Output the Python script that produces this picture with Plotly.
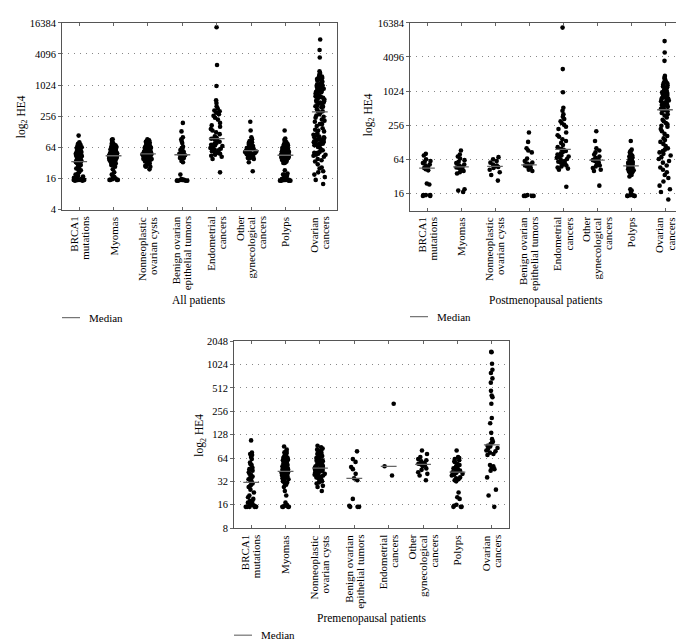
import numpy as np
import plotly.graph_objects as go

categories = ["BRCA1<br>mutations", "Myomas", "Nonneoplastic<br>ovarian cysts",
              "Benign ovarian<br>epithelial tumors", "Endometrial<br>cancers",
              "Other<br>gynecological<br>cancers", "Polyps", "Ovarian<br>cancers"]

# HE4 values, postmenopausal patients
post_brca1 = [80, 75, 64, 60, 58, 55, 52, 50, 47, 45, 43, 41, 24, 23, 15, 15, 15, 14.5, 14.5]
post_myomas = [92, 78, 72, 66, 62, 58, 55, 52, 50, 48, 46, 45, 43, 42, 40, 38, 36, 19, 18, 17]
post_nonneo = [70, 64, 60, 56, 52, 50, 48, 47, 45, 42, 38, 34, 27]
post_benign = [190, 130, 100, 92, 85, 66, 60, 56, 54, 52, 50, 48, 45, 42, 40, 15, 14.5, 14.5, 14.5, 14.5]
post_endometrial = [13500, 2500, 980, 520, 460, 400, 360, 330, 300, 280, 260, 240, 220, 190, 170,
                    160, 145, 135, 125, 115, 105, 98, 94, 90, 86, 82, 78, 75, 72, 70, 68, 65, 62,
                    60, 58, 56, 54, 52, 50, 48, 46, 44, 42, 21]
post_othergyn = [200, 135, 100, 92, 85, 78, 72, 68, 64, 62, 60, 56, 52, 50, 48, 45, 42, 40, 22]
post_polyps = [135, 95, 90, 85, 80, 78, 75, 72, 70, 68, 66, 64, 62, 60, 58, 57, 56, 55, 54, 53,
               52, 51, 50, 49, 48, 47, 46, 45, 44, 43, 42, 41, 40, 39, 38, 36, 34, 32,
               19, 18, 17, 15, 15, 14.5, 14.5, 14.5, 14.5]
post_ovarian = [7800, 4900, 3500, 1900, 1750, 1680, 1600, 1500, 1460, 1400, 1340, 1300, 1240, 1200,
                1150, 1100, 1060, 1000, 980, 950, 920, 900, 870, 850, 820, 800, 780, 760, 740,
                720, 700, 680, 660, 640, 620, 600, 580, 560, 540, 520, 500, 490,
                470, 450, 420, 400, 380, 350, 320, 300, 280, 265, 250, 240, 220, 200, 180, 165,
                150, 140, 130, 120, 110, 100, 95, 90, 85, 80, 75, 70, 65, 60, 56, 50, 46, 42,
                38, 34, 30, 26, 22, 19, 17, 12.5]

# HE4 values, premenopausal patients
pre_brca1 = [108, 75, 72, 70, 66, 62, 56, 53, 52, 48, 46, 44, 42, 40, 39, 37, 36, 35, 34, 33,
             32, 30, 29, 28, 27, 25, 23, 21, 20, 19, 18, 17.5, 17, 16.5, 16, 16, 15.5, 15, 15,
             15, 15, 15]
pre_myomas = [90, 82, 78, 76, 74, 72, 70, 68, 66, 65, 64, 62, 61, 60, 58, 57, 56, 55, 54, 53,
              52, 51, 50, 49, 48, 47, 46, 46, 45, 45, 44, 44, 43, 43, 42, 42, 41, 41, 40, 40,
              39, 39, 38, 38, 37, 37, 36, 36, 35, 35, 34, 33, 32, 31, 30, 29, 27, 24, 21, 17,
              16, 15.5, 15, 15, 15, 15]
pre_nonneo = [92, 88, 85, 82, 80, 78, 76, 74, 72, 70, 68, 66, 64, 63, 62, 60, 59, 58, 56, 55,
              54, 53, 52, 51, 50, 49, 48, 48, 47, 47, 46, 46, 45, 45, 44, 44, 43, 42, 42, 41,
              40, 40, 39, 38, 38, 37, 36, 35, 34, 33, 32, 31, 30, 28, 27, 24]
pre_benign = [78, 62, 57, 49, 46, 40, 35, 33, 19, 15.5, 15, 15, 15]
pre_endometrial = [320, 50, 38]
pre_othergyn = [80, 72, 66, 62, 60, 58, 55, 54, 53, 52, 50, 47, 45, 42, 40, 38, 33]
pre_polyps = [80, 66, 64, 62, 60, 58, 57, 54, 52, 50, 48, 47, 46, 45, 44, 43, 42, 42, 41, 40,
              39, 38, 36, 35, 34, 33, 32, 23, 20, 19, 16, 15.5, 15, 15, 15]
pre_ovarian = [1500, 1480, 1050, 880, 800, 680, 600, 470, 410, 390, 320, 210, 180, 135, 112, 104,
               100, 97, 92, 90, 86, 84, 80, 78, 75, 72, 70, 52, 50, 48, 46, 44, 36, 25, 21, 15]

post = [post_brca1, post_myomas, post_nonneo, post_benign, post_endometrial,
        post_othergyn, post_polyps, post_ovarian]
pre = [pre_brca1, pre_myomas, pre_nonneo, pre_benign, pre_endometrial,
       pre_othergyn, pre_polyps, pre_ovarian]
allp = [a + b for a, b in zip(post, pre)]

yticks_all = [4, 16, 64, 256, 1024, 4096, 16384]
yticks_post = [16, 64, 256, 1024, 4096, 16384]
yticks_pre = [8, 16, 32, 64, 128, 256, 512, 1024, 2048]

W, H = 684, 643
def px(x):
    return x / W
def py(y):
    return 1 - y / H

FONT = "Liberation Serif"
LINE_GAP = 11  # px between lines of a rotated category label
fig = go.Figure()

panels = [
    dict(data=allp, ax="", x0=54, x1=329, y0=10, y1=200, lo=2, hi=14, ticks=yticks_all,
         title="All patients", tx=191, ty=293, ytx=14, yty=106, ly=310),
    dict(data=post, ax="2", x0=402, x1=674, y0=10, y1=201, lo=3, hi=14, ticks=yticks_post,
         title="Postmenopausal patients", tx=538, ty=293, ytx=361, yty=104, ly=309),
    dict(data=pre, ax="3", x0=226, x1=501, y0=334, y1=524, lo=3, hi=11, ticks=yticks_pre,
         title="Premenopausal patients", tx=363, ty=616, ytx=192, yty=430, ly=633),
]

shapes = []
annotations = []
for p in panels:
    xa, ya = "x" + p["ax"], "y" + p["ax"]
    mx, my = [], []
    for i, vals in enumerate(p["data"]):
        fig.add_trace(go.Box(
            y=vals, x0=i, xaxis=xa, yaxis=ya, boxpoints="all", jitter=0.75, pointpos=0,
            width=0.5, line=dict(width=0, color="rgba(0,0,0,0)"),
            fillcolor="rgba(0,0,0,0)", marker=dict(color="black", size=4.6),
            showlegend=False, hoverinfo="y"))
        m = float(np.median(vals))
        mx += [i - 0.23, i + 0.23, None]
        my += [m, m, None]
    fig.add_trace(go.Scatter(x=mx, y=my, mode="lines", xaxis=xa, yaxis=ya,
                             line=dict(color="#666", width=1.3), showlegend=False,
                             hoverinfo="skip"))
    xkey = "xaxis" + p["ax"]
    ykey = "yaxis" + p["ax"]
    fig.update_layout(**{
        xkey: dict(domain=[px(p["x0"]), px(p["x1"])], anchor=ya, range=[-0.5, 7.5],
                   tickvals=list(range(8)), showticklabels=False,
                   ticks="inside", ticklen=3, tickcolor="#666", showline=True,
                   linecolor="#555", linewidth=1, mirror="ticks", showgrid=False,
                   zeroline=False),
        ykey: dict(domain=[py(p["y1"]), py(p["y0"])], anchor=xa, type="log",
                   range=[p["lo"] * np.log10(2), p["hi"] * np.log10(2)],
                   tickvals=p["ticks"], ticktext=[str(t) for t in p["ticks"]],
                   ticks="outside", ticklen=3, tickcolor="#666", showline=True,
                   linecolor="#555", linewidth=1, mirror=True, showgrid=True,
                   gridcolor="#888", griddash="1px,5px", gridwidth=1, zeroline=False,
                   tickfont=dict(family=FONT, size=10.5, color="black")),
    })
    # rotated category labels, each line as its own text, centred on the tick
    for i, cat in enumerate(categories):
        lines = cat.split("<br>")
        n = len(lines)
        for k, ln in enumerate(lines):
            annotations.append(dict(
                text=ln, x=i, xref=xa, y=py(p["y1"] + 5), yref="paper",
                xshift=(k - (n - 1) / 2) * LINE_GAP, showarrow=False, textangle=-90,
                xanchor="center", yanchor="top",
                font=dict(family=FONT, size=11, color="black")))
    annotations.append(dict(text=p["title"], x=px(p["tx"]), y=py(p["ty"]), xref="paper",
                            yref="paper", showarrow=False, xanchor="center", yanchor="middle",
                            font=dict(family=FONT, size=11.5, color="black")))
    annotations.append(dict(text="log<sub>2</sub> HE4", x=px(p["ytx"]), y=py(p["yty"]),
                            xref="paper", yref="paper", showarrow=False, textangle=-90,
                            xanchor="center", yanchor="middle",
                            font=dict(family=FONT, size=11.5, color="black")))
    annotations.append(dict(text="Median", x=px(p["x0"] + 25), y=py(p["ly"]), xref="paper",
                            yref="paper", showarrow=False, xanchor="left", yanchor="middle",
                            font=dict(family=FONT, size=11, color="black")))
    shapes.append(dict(type="line", xref="paper", yref="paper", x0=px(p["x0"]),
                       x1=px(p["x0"] + 18), y0=py(p["ly"]), y1=py(p["ly"]),
                       line=dict(color="#555", width=1)))

fig.update_layout(width=W, height=H, margin=dict(l=0, r=0, t=0, b=0),
                  paper_bgcolor="white", plot_bgcolor="white", boxmode="overlay",
                  shapes=shapes, annotations=annotations, showlegend=False)
fig.write_html("out.html")
